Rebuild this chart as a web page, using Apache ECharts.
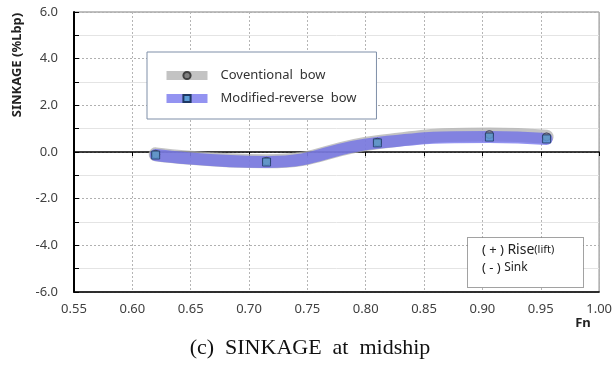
<!DOCTYPE html>
<html>
<head>
<meta charset="utf-8">
<script src="https://cdn.jsdelivr.net/npm/echarts@6/dist/echarts.min.js"></script>
<style>
  html, body { margin: 0; padding: 0; background: #fff; }
  #chart { width: 615px; height: 367px; }
</style>
</head>
<body>
<div id="chart"></div>
<script>
// Froude numbers of the test points
const fn = [0.62, 0.715, 0.81, 0.906, 0.955];
// sinkage at midship (%Lbp)
const conventional = [-0.10, -0.40, 0.42, 0.75, 0.65];
const modifiedReverse = [-0.13, -0.43, 0.39, 0.64, 0.56];

const seriesNames = ["Coventional  bow", "Modified-reverse  bow"];

const pairs = (ys) => fn.map((x, i) => [x, ys[i]]);

const chart = echarts.init(document.getElementById("chart"), null, { renderer: "canvas" });

const labelFont = "Noto Sans";

const option = {
  backgroundColor: "#fff",
  animation: false,
  grid: {
    left: 74,
    right: 13,
    top: 12,
    bottom: 75,
    show: true,
    borderColor: "#7f7f7f",
    borderWidth: 1,
  },
  legend: {
    orient: "vertical",
    left: 147,
    top: 52,
    padding: [17, 20, 14, 15],
    itemGap: 10,
    itemWidth: 41,
    itemHeight: 9,
    borderColor: "#7f8fa8",
    borderWidth: 1,
    backgroundColor: "#fff",
    data: seriesNames,
    lineStyle: { width: 9, cap: "butt", opacity: 1 },
    textStyle: {
      fontFamily: labelFont,
      fontSize: 13,
      color: "#333",
      padding: [0, 0, 0, 8],
    },
  },
  xAxis: [
    {
      type: "value",
      min: 0.55,
      max: 1.0,
      interval: 0.05,
      position: "bottom",
      axisLine: { onZero: false, lineStyle: { color: "#000", width: 1.5 } },
      axisTick: { show: false },
      axisLabel: {
        margin: 11,
        fontFamily: labelFont,
        fontSize: 13,
        color: "#404040",
        formatter: (v) => v.toFixed(2),
      },
      splitLine: { show: true, lineStyle: { color: "#b5b5b5", type: [2, 2] } },
    },
    {
      // axis line through zero with inward ticks
      type: "value",
      min: 0.55,
      max: 1.0,
      interval: 0.05,
      axisLine: { onZero: true, lineStyle: { color: "#000", width: 1.5 } },
      axisTick: { show: true, inside: true, length: 4, lineStyle: { color: "#000" } },
      axisLabel: { show: false },
      splitLine: { show: false },
    },
  ],
  yAxis: {
    type: "value",
    min: -6,
    max: 6,
    interval: 2,
    axisLine: { show: true, lineStyle: { color: "#000", width: 2 } },
    axisTick: { show: true, inside: true, length: 5, lineStyle: { color: "#000" } },
    minorTick: { show: true, splitNumber: 2, length: 5, lineStyle: { color: "#000" } },
    axisLabel: {
      margin: 16,
      fontFamily: labelFont,
      fontSize: 13,
      color: "#404040",
      formatter: (v) => v.toFixed(1),
    },
    splitLine: { show: true, lineStyle: { color: "#b0b0b0", type: [2, 2] } },
    minorSplitLine: { show: true, lineStyle: { color: "#e4e4e4" } },
  },
  series: [
    {
      name: seriesNames[0],
      type: "line",
      smooth: 0.5,
      data: pairs(conventional),
      showSymbol: false,
      symbol: "circle",
      itemStyle: { color: "#7f7f7f", borderColor: "#404040", borderWidth: 1 },
      lineStyle: { width: 14, color: "rgba(175,175,175,0.75)", cap: "round" },
      z: 2,
    },
    {
      name: seriesNames[1],
      type: "line",
      smooth: 0.5,
      data: pairs(modifiedReverse),
      showSymbol: false,
      symbol: "rect",
      itemStyle: { color: "#5b9bd5", borderColor: "#1f3864", borderWidth: 1 },
      lineStyle: { width: 12, color: "rgba(105,105,235,0.72)", cap: "round" },
      z: 3,
    },
    {
      name: seriesNames[0] + " points",
      type: "scatter",
      data: pairs(conventional),
      symbol: "circle",
      symbolSize: 8,
      itemStyle: { color: "#7f7f7f", borderColor: "#3a3a5a", borderWidth: 1 },
      z: 5,
    },
    {
      name: seriesNames[1] + " points",
      type: "scatter",
      data: pairs(modifiedReverse),
      symbol: "rect",
      symbolSize: 8,
      itemStyle: { color: "#5b9bd5", borderColor: "#1f3864", borderWidth: 1 },
      z: 6,
    },
  ],
  graphic: [
    {
      type: "text",
      x: 17,
      y: 65,
      rotation: Math.PI / 2,
      style: {
        text: "SINKAGE (%Lbp)",
        fontFamily: labelFont,
        fontSize: 13,
        fontWeight: "bold",
        fill: "#222",
        align: "center",
        verticalAlign: "middle",
      },
    },
    {
      type: "text",
      x: 583,
      y: 323,
      style: {
        text: "Fn",
        fontFamily: labelFont,
        fontSize: 13,
        fontWeight: "bold",
        fill: "#222",
        align: "center",
        verticalAlign: "middle",
      },
    },
    {
      type: "rect",
      shape: { x: 467.5, y: 237.5, width: 116, height: 50 },
      style: { fill: "#fff", stroke: "#444", lineWidth: 1, lineDash: [1, 1] },
      z: 10,
    },
    {
      type: "text",
      x: 482,
      y: 250,
      z: 11,
      style: {
        text: "( + ) {a|Rise}{b|(lift)}",
        fontFamily: labelFont,
        fontSize: 13,
        fill: "#222",
        verticalAlign: "middle",
        rich: {
          a: { fontFamily: labelFont, fontSize: 14, fill: "#222" },
          b: { fontFamily: labelFont, fontSize: 11, fill: "#222" },
        },
      },
    },
    {
      type: "text",
      x: 482,
      y: 268,
      z: 11,
      style: {
        text: "( - ) {a|Sink}",
        fontFamily: labelFont,
        fontSize: 13,
        fill: "#222",
        verticalAlign: "middle",
        rich: {
          a: { fontFamily: labelFont, fontSize: 12, fill: "#222" },
        },
      },
    },
    {
      type: "text",
      x: 310,
      y: 348,
      style: {
        text: "(c)  SINKAGE  at  midship",
        fontFamily: "Liberation Serif",
        fontSize: 22,
        fill: "#111",
        align: "center",
        verticalAlign: "middle",
      },
    },
  ],
};

chart.setOption(option);
</script>
</body>
</html>
